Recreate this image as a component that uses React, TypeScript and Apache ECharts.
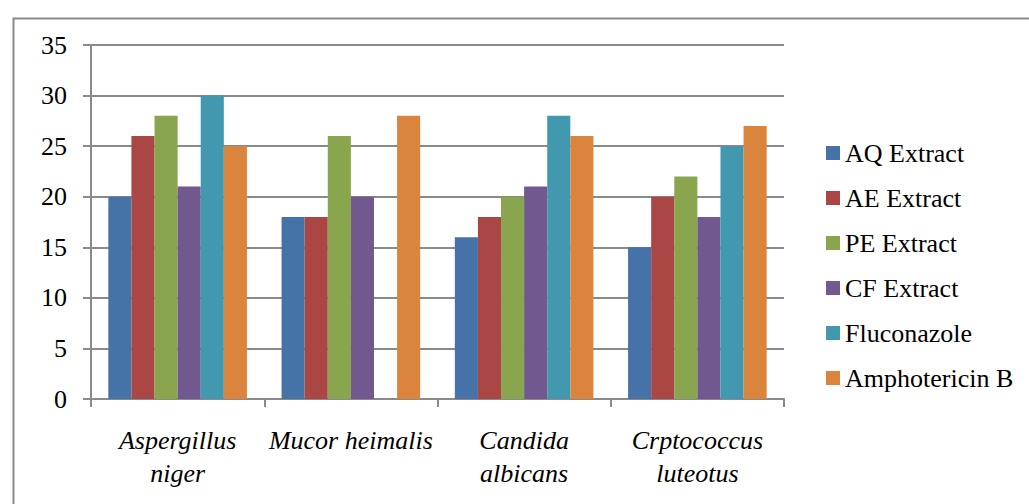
import React, { useEffect, useRef } from "react";
import * as echarts from "echarts";

const categories = [
  "Aspergillus\nniger",
  "Mucor heimalis",
  "Candida\nalbicans",
  "Crptococcus\nluteotus",
];

const seriesNames = [
  "AQ Extract",
  "AE Extract",
  "PE Extract",
  "CF Extract",
  "Fluconazole",
  "Amphotericin B",
];

const aqExtract = [20, 18, 16, 15];
const aeExtract = [26, 18, 18, 20];
const peExtract = [28, 26, 20, 22];
const cfExtract = [21, 20, 21, 18];
const fluconazole = [30, null, 28, 25];
const amphotericinB = [25, 28, 26, 27];

const seriesValues = [aqExtract, aeExtract, peExtract, cfExtract, fluconazole, amphotericinB];

const colors = ["#4572A7", "#AA4643", "#89A54E", "#71588F", "#4198AF", "#DB843D"];

const yTicks = { min: 0, max: 35, interval: 5 };

const FONT = "Liberation Serif";
const GRAY = "#8a8a8a";

export default function App() {
  const ref = useRef<HTMLDivElement>(null);

  useEffect(() => {
    if (!ref.current) return;
    const chart = echarts.init(ref.current, null, { renderer: "svg" });
    chart.setOption({
      animation: false,
      backgroundColor: "#ffffff",
      color: colors,
      textStyle: { fontFamily: FONT },
      graphic: [
        {
          type: "rect",
          left: 11,
          top: 16,
          shape: { x: 0, y: 0, width: 1100, height: 600 },
          style: { fill: "none", stroke: GRAY, lineWidth: 2 },
          silent: true,
        },
      ],
      grid: { left: 91, right: 245, top: 45, bottom: 105, containLabel: false },
      legend: {
        orient: "vertical",
        left: 826,
        top: 140,
        padding: 0,
        itemWidth: 14,
        itemHeight: 14,
        itemGap: 19,
        icon: "rect",
        textStyle: { fontFamily: FONT, fontSize: 26, color: "#000", lineHeight: 26 },
        data: seriesNames,
      },
      xAxis: {
        type: "category",
        data: categories,
        axisLine: { lineStyle: { color: GRAY, width: 2 } },
        axisTick: { show: true, length: 8, lineStyle: { color: GRAY, width: 2 }, alignWithLabel: false },
        axisLabel: {
          fontFamily: FONT,
          fontStyle: "italic",
          fontSize: 26,
          color: "#000",
          lineHeight: 33,
          margin: 25,
          interval: 0,
        },
      },
      yAxis: {
        type: "value",
        min: yTicks.min,
        max: yTicks.max,
        interval: yTicks.interval,
        axisLine: { show: true, lineStyle: { color: GRAY, width: 2 } },
        axisTick: { show: true, length: 8, lineStyle: { color: GRAY, width: 2 } },
        axisLabel: { fontFamily: FONT, fontSize: 26, color: "#000", margin: 24 },
        splitLine: { show: true, lineStyle: { color: GRAY, width: 2 } },
      },
      series: seriesNames.map((name, i) => ({
        name,
        type: "bar",
        data: seriesValues[i],
        barGap: "0%",
        barCategoryGap: "20%",
        itemStyle: { color: colors[i] },
      })),
    });
    return () => chart.dispose();
  }, []);

  return (
    <div
      ref={ref}
      style={{ position: "fixed", left: 0, top: 0, width: 1029, height: 504 }}
    />
  );
}
